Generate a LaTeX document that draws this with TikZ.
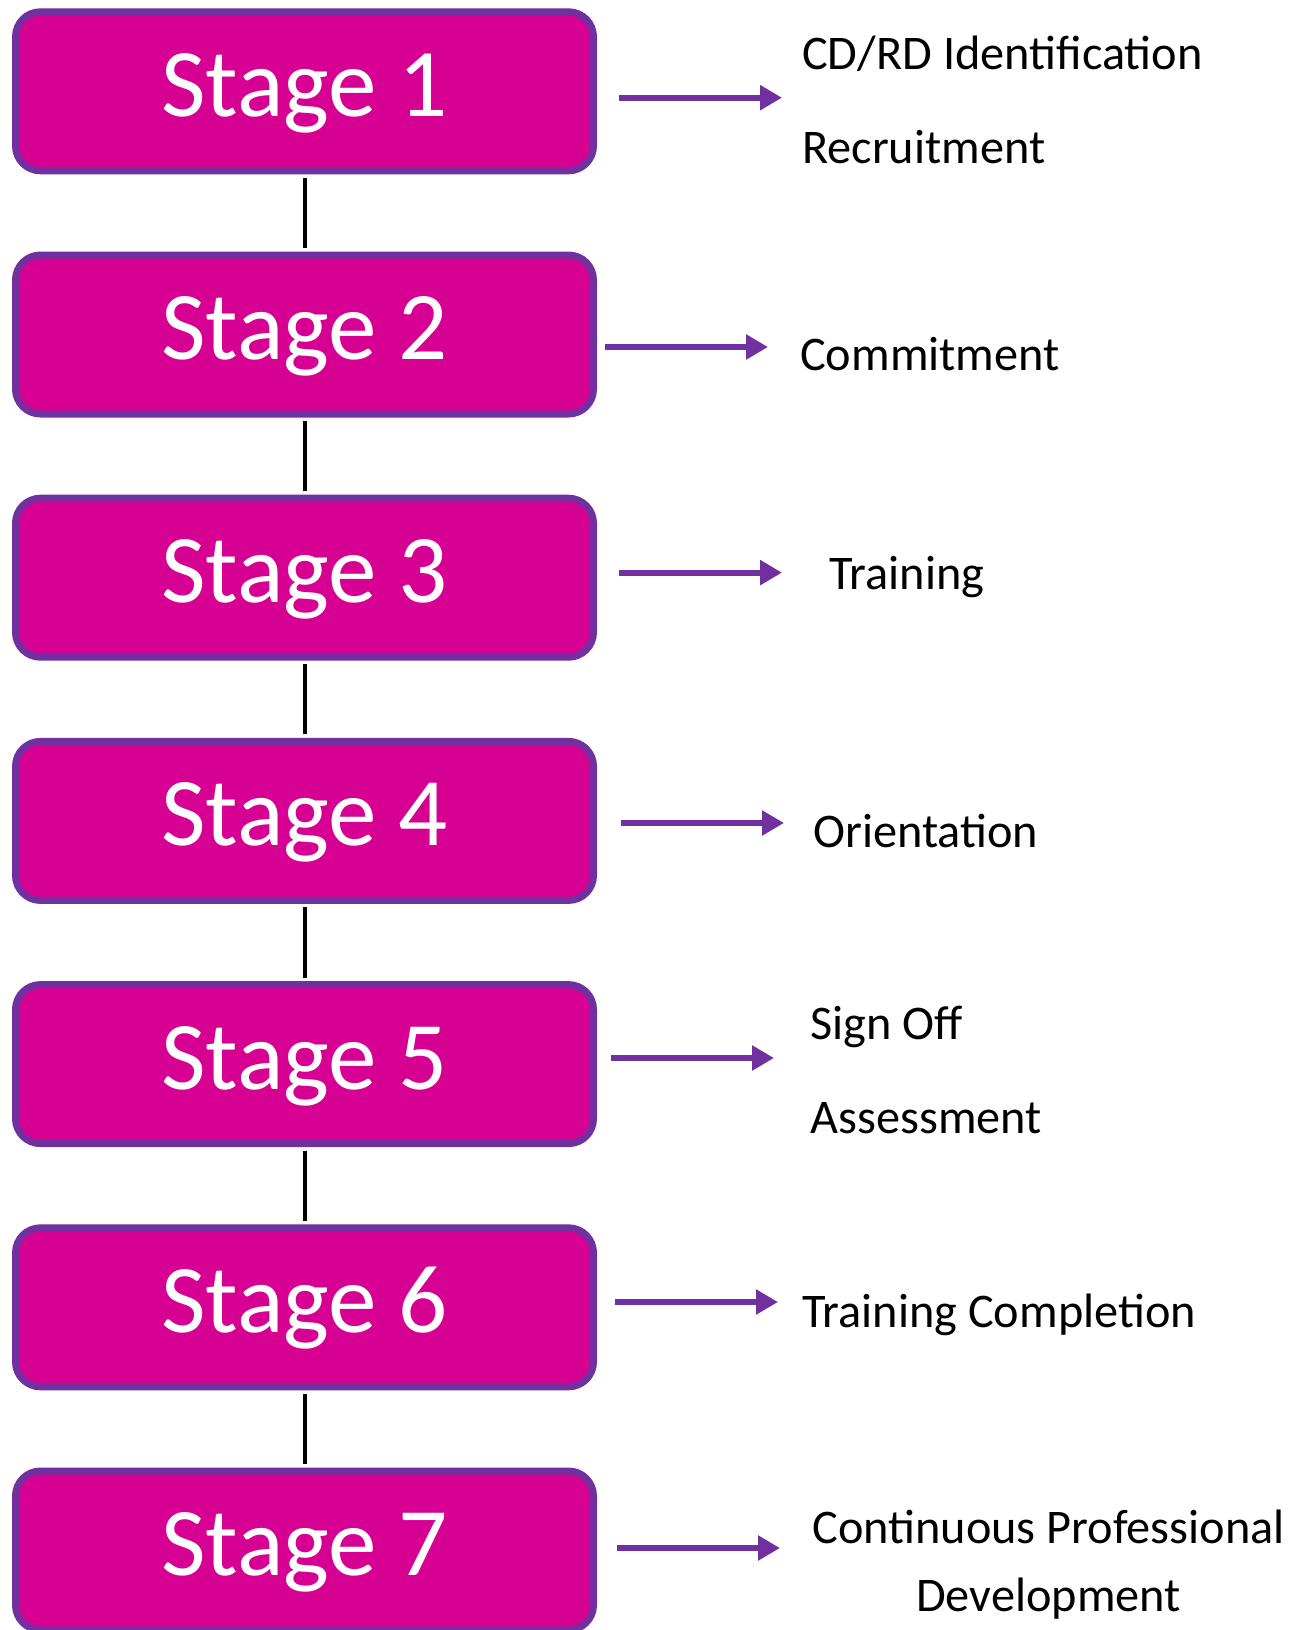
\documentclass[tikz,border=0pt]{standalone}
\usepackage{fontspec}
\setmainfont{Carlito}
\usetikzlibrary{arrows.meta}
\definecolor{boxfill}{HTML}{D60093}
\definecolor{boxline}{HTML}{7030A0}
\begin{document}
\begin{tikzpicture}[x=1pt,y=-1pt,
  stagebox/.style={rectangle, rounded corners=25pt, draw=boxline, line width=7pt,
    fill=boxfill, minimum width=578pt, minimum height=159pt, inner sep=0pt,
    text=white, font=\fontsize{97}{112}\selectfont, text height=62pt, text depth=12pt},
  link/.style={draw=black, line width=4pt, shorten <=3.5pt, shorten >=3.5pt},
  flow/.style={draw=boxline, line width=6pt, -{Triangle[length=22pt,width=24pt]}},
  lbl/.style={inner sep=0pt, text=black, font=\fontsize{48.3}{58}\selectfont}]
\useasboundingbox (0,0) rectangle (1299,1630);
% stage boxes
\foreach \i in {1,...,7}{
  \node[stagebox] (b\i) at (304.5,{91.3+(\i-1)*243.2}) {Stage \i};
}
% connectors between boxes
\foreach \i/\j in {1/2,2/3,3/4,4/5,5/6,6/7}{
  \draw[link] (b\i.south) -- (b\j.north);
}
% arrow end points
\coordinate (a1s) at (619,97.7);  \coordinate (a1e) at (782,97.7);
\coordinate (a2s) at (605,347);   \coordinate (a2e) at (768,347);
\coordinate (a3s) at (619,572.6); \coordinate (a3e) at (782,572.6);
\coordinate (a4s) at (621,823);   \coordinate (a4e) at (784,823);
\coordinate (a5s) at (611,1058);  \coordinate (a5e) at (774,1058);
\coordinate (a6s) at (615,1302);  \coordinate (a6e) at (778,1302);
\coordinate (a7s) at (617,1548);  \coordinate (a7e) at (780,1548);
\foreach \i in {1,...,7}{
  \draw[flow] (a\i s) -- (a\i e);
}
% labels
\node[lbl, anchor=base west] (t1a) at (802,69.6) {CD/RD Identification};
\node[lbl, anchor=base west] (t1b) at (802,163) {Recruitment};
\node[lbl, anchor=base west] (t2) at (800,370) {Commitment};
\node[lbl, anchor=base west] (t3) at (829,589) {Training};
\node[lbl, anchor=base west] (t4) at (813,847) {Orientation};
\node[lbl, anchor=base west] (t5a) at (810.5,1039) {Sign Off};
\node[lbl, anchor=base west] (t5b) at (810.5,1133) {Assessment};
\node[lbl, anchor=base west] (t6) at (802,1327) {Training Completion};
\node[lbl, anchor=base] (t7a) at (1048.5,1543) {Continuous Professional};
\node[lbl, anchor=base] (t7b) at (1048.5,1611) {Development};
\end{tikzpicture}
\end{document}
